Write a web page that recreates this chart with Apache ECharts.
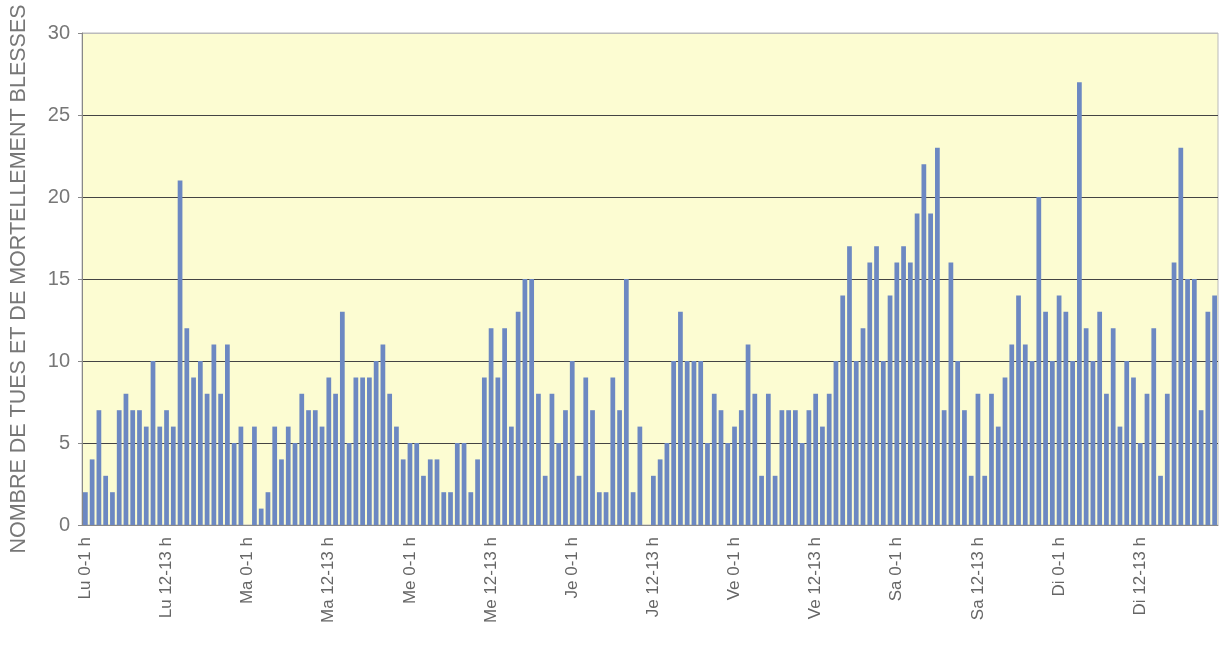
<!DOCTYPE html>
<html>
<head>
<meta charset="utf-8">
<script src="https://cdn.jsdelivr.net/npm/echarts@6/dist/echarts.min.js"></script>
<style>
  html, body { margin: 0; padding: 0; background: #fff; }
  #chart { width: 1219px; height: 649px; }
</style>
</head>
<body>
<div id="chart"></div>
<script>
// jours de la semaine, 24 tranches horaires chacun
const days = ['Lu', 'Ma', 'Me', 'Je', 'Ve', 'Sa', 'Di']

// nombre de tués et mortellement blessés par heure
const lundi    = [2, 4, 7, 3, 2, 7, 8, 7, 7, 6, 10, 6, 7, 6, 21, 12, 9, 10, 8, 11, 8, 11, 5, 6]
const mardi    = [0, 6, 1, 2, 6, 4, 6, 5, 8, 7, 7, 6, 9, 8, 13, 5, 9, 9, 9, 10, 11, 8, 6, 4]
const mercredi = [5, 5, 3, 4, 4, 2, 2, 5, 5, 2, 4, 9, 12, 9, 12, 6, 13, 15, 15, 8, 3, 8, 5, 7]
const jeudi    = [10, 3, 9, 7, 2, 2, 9, 7, 15, 2, 6, 0, 3, 4, 5, 10, 13, 10, 10, 10, 5, 8, 7, 5]
const vendredi = [6, 7, 11, 8, 3, 8, 3, 7, 7, 7, 5, 7, 8, 6, 8, 10, 14, 17, 10, 12, 16, 17, 10, 14]
const samedi   = [16, 17, 16, 19, 22, 19, 23, 7, 16, 10, 7, 3, 8, 3, 8, 6, 9, 11, 14, 11, 10, 20, 13, 10]
const dimanche = [14, 13, 10, 27, 12, 10, 13, 8, 12, 6, 10, 9, 5, 8, 12, 3, 8, 16, 23, 15, 15, 7, 13, 14]

const values = [].concat(lundi, mardi, mercredi, jeudi, vendredi, samedi, dimanche)

const categories = []
days.forEach(d => {
  for (let h = 0; h < 24; h++) categories.push(d + ' ' + h + '-' + (h + 1) + ' h')
})

const chart = echarts.init(document.getElementById('chart'))
const option = {
  animation: false,
  backgroundColor: '#fff',
  grid: {
    left: 80,
    right: 1,
    top: 33,
    bottom: 124,
    show: true,
    backgroundColor: '#FCFCD2',
    borderColor: '#bbb',
    borderWidth: 1
  },
  xAxis: {
    type: 'category',
    data: categories,
    axisLine: { lineStyle: { color: '#888' } },
    axisTick: { interval: 0, length: 7, lineStyle: { color: '#888' } },
    axisLabel: {
      interval: 11,
      rotate: 90,
      margin: 12,
      fontSize: 17,
      color: '#666',
      fontFamily: 'Liberation Sans, Arial, sans-serif'
    }
  },
  yAxis: {
    type: 'value',
    min: 0,
    max: 30,
    interval: 5,
    name: 'NOMBRE DE TUES ET DE MORTELLEMENT BLESSES',
    nameLocation: 'middle',
    nameGap: 52,
    nameTextStyle: {
      fontSize: 21.5,
      color: '#777',
      fontFamily: 'Liberation Sans, Arial, sans-serif'
    },
    axisLine: { show: true, lineStyle: { color: '#888' } },
    axisTick: { show: true, length: 4, lineStyle: { color: '#888' } },
    axisLabel: {
      margin: 12,
      fontSize: 20,
      color: '#777',
      fontFamily: 'Liberation Sans, Arial, sans-serif'
    },
    splitLine: {
      lineStyle: {
        color: ['#888', '#444', '#444', '#444', '#444', '#444', '#bbb'],
        width: 1
      }
    }
  },
  series: [
    {
      type: 'bar',
      data: values,
      barCategoryGap: '30%',
      itemStyle: { color: '#6C88C2' }
    }
  ]
}
chart.setOption(option)
</script>
</body>
</html>
